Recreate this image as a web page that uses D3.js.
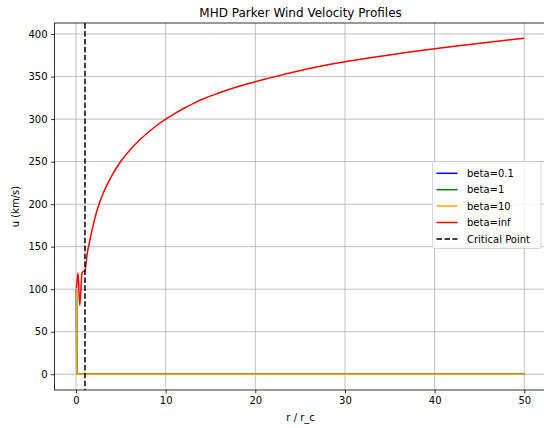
<!DOCTYPE html>
<html>
<head>
<meta charset="utf-8">
<script src="https://cdn.jsdelivr.net/npm/d3@7"></script>
<style>
  body { margin: 0; background: #fff; }
  svg { display: block; font-family: "DejaVu Sans", sans-serif; }
</style>
</head>
<body>
<svg id="chart" width="544" height="428"></svg>
<script>
// r / r_c and u (km/s)
var rLow = [0.05, 0.08, 50];
var uLow = [100, 0, 0];

var rInf = [0.05, 0.22, 0.42, 0.67, 0.85, 1.0, 1.05, 1.2, 1.3, 1.4, 1.6, 1.8, 2.0, 2.3, 2.6,
            3.0, 3.5, 4.0, 4.5, 5.0, 6.0, 7.0, 8.0, 9.0, 10, 11, 12, 13, 14, 16, 18, 20,
            23, 26, 30, 34, 38, 42, 46, 50];
var uInf = [101, 119, 81, 119, 121, 121, 124, 138, 145, 150, 160.5, 170, 179, 191, 201,
            212, 223.5, 233.5, 242.5, 250.5, 263.5, 274.5, 284, 292.5, 300, 306.5, 312.5, 318, 323, 331, 338, 344,
            352, 359.5, 367.5, 374, 380, 385.5, 390.5, 395];

var criticalR = 1;

var seriesNames = ['beta=0.1', 'beta=1', 'beta=10', 'beta=inf'];
var seriesColors = ['#0000ff', '#008000', '#ffa500', '#ff0000'];

var xTicks = [0, 10, 20, 30, 40, 50];
var yTicks = [0, 50, 100, 150, 200, 250, 300, 350, 400];

var svg = d3.select('#chart');

// plot box (window.top is taken, so pT / pB)
var pL = 54.5, pR = 546.7, pT = 23, pB = 390;

var x = d3.scaleLinear().domain([-2.4, 52.5]).range([pL, pR]);
var y = d3.scaleLinear().domain([-18.5, 413]).range([pB, pT]);

svg.append('defs').append('clipPath').attr('id', 'plotclip')
    .append('rect')
    .attr('x', pL).attr('y', pT)
    .attr('width', pR - pL).attr('height', pB - pT);

// grid
var grid = svg.append('g');
grid.selectAll('line.gx').data(xTicks).enter().append('line')
    .attr('x1', function (d) { return x(d); })
    .attr('x2', function (d) { return x(d); })
    .attr('y1', pT).attr('y2', pB)
    .attr('stroke', '#b0b0b0').attr('stroke-width', 0.8);
grid.selectAll('line.gy').data(yTicks).enter().append('line')
    .attr('x1', pL).attr('x2', pR)
    .attr('y1', function (d) { return y(d); })
    .attr('y2', function (d) { return y(d); })
    .attr('stroke', '#b0b0b0').attr('stroke-width', 0.8);

var plot = svg.append('g').attr('clip-path', 'url(#plotclip)');

var line = d3.line()
    .x(function (d) { return x(d[0]); })
    .y(function (d) { return y(d[1]); });

var smoothLine = d3.line()
    .curve(d3.curveMonotoneX)
    .x(function (d) { return x(d[0]); })
    .y(function (d) { return y(d[1]); });

var lowData = d3.zip(rLow, uLow);
var infData = d3.zip(rInf, uInf);
var allData = [lowData, lowData, lowData, infData];

allData.forEach(function (data, i) {
    plot.append('path')
        .datum(data)
        .attr('d', i === 3 ? smoothLine : line)
        .attr('fill', 'none')
        .attr('stroke', seriesColors[i])
        .attr('stroke-width', 1.5)
        .attr('stroke-linejoin', 'round');
});

plot.append('line')
    .attr('x1', x(criticalR)).attr('x2', x(criticalR))
    .attr('y1', pT).attr('y2', pB)
    .attr('stroke', '#000').attr('stroke-width', 1.5)
    .attr('stroke-dasharray', '5.55,2.4');

// axes
var xAxis = svg.append('g')
    .attr('transform', 'translate(0,' + pB + ')')
    .call(d3.axisBottom(x).tickValues(xTicks).tickSizeOuter(0).tickSize(3.5).tickPadding(3.5));
var yAxis = svg.append('g')
    .attr('transform', 'translate(' + pL + ',0)')
    .call(d3.axisLeft(y).tickValues(yTicks).tickSizeOuter(0).tickSize(3.5).tickPadding(3.5));

[xAxis, yAxis].forEach(function (a) {
    a.select('.domain').remove();
    a.selectAll('.tick line').attr('stroke', '#000').attr('stroke-width', 0.8);
    a.selectAll('.tick text')
        .attr('fill', '#000')
        .style('font-size', '10px')
        .style('font-family', '"DejaVu Sans", sans-serif');
});

// spines
svg.append('rect')
    .attr('x', pL).attr('y', pT)
    .attr('width', pR - pL).attr('height', pB - pT)
    .attr('fill', 'none').attr('stroke', '#000').attr('stroke-width', 0.8);

svg.append('text')
    .attr('x', (pL + pR) / 2).attr('y', 16.5)
    .attr('text-anchor', 'middle')
    .style('font-size', '12px')
    .text('MHD Parker Wind Velocity Profiles');

svg.append('text')
    .attr('x', (pL + pR) / 2).attr('y', 421)
    .attr('text-anchor', 'middle')
    .style('font-size', '10px')
    .text('r / r_c');

svg.append('text')
    .attr('transform', 'translate(18.5,' + ((pT + pB) / 2) + ') rotate(-90)')
    .attr('text-anchor', 'middle')
    .style('font-size', '10px')
    .text('u (km/s)');

// legend
var legendNames = seriesNames.concat(['Critical Point']);
var legendColors = seriesColors.concat(['#000']);
var lg = svg.append('g').attr('transform', 'translate(432.5,161.5)');
lg.append('rect')
    .attr('width', 108.5).attr('height', 87)
    .attr('rx', 2).attr('ry', 2)
    .attr('fill', '#fff').attr('fill-opacity', 0.8)
    .attr('stroke', '#cccccc').attr('stroke-width', 0.8);

legendNames.forEach(function (name, i) {
    var yy = 11.8 + i * 16.4;
    lg.append('line')
        .attr('x1', 4).attr('x2', 25)
        .attr('y1', yy).attr('y2', yy)
        .attr('stroke', legendColors[i])
        .attr('stroke-width', 1.5)
        .attr('stroke-dasharray', i === 4 ? '5.55,2.4' : null);
    lg.append('text')
        .attr('x', 34.5).attr('y', yy + 3.6)
        .style('font-size', '10px')
        .text(name);
});
</script>
</body>
</html>
